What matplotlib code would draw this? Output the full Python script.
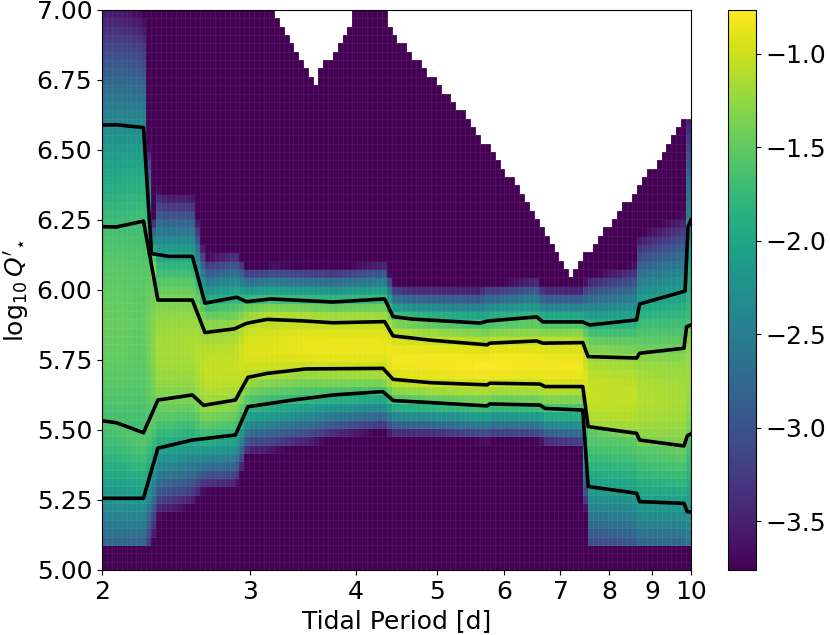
import numpy as np
import matplotlib.pyplot as plt
from math import erf

# percentile curves of log10 Q'_* against tidal period [d]
p_hi2 = [2.00, 2.08, 2.24, 2.29, 2.40, 2.56, 2.65, 2.89, 2.97, 3.17, 3.76, 4.33, 4.43,
         4.67, 5.62, 5.74, 6.56, 6.67, 7.44, 7.58, 8.62, 8.69, 9.84, 9.92, 10.0]
q_hi2 = [6.589, 6.59, 6.58, 6.13, 6.12, 6.12, 5.953, 5.974, 5.958, 5.968, 5.957, 5.968, 5.905,
         5.896, 5.882, 5.889, 5.904, 5.886, 5.886, 5.875, 5.893, 5.95, 5.996, 6.225, 6.25]

p_hi1 = [2.00, 2.08, 2.24, 2.33, 2.56, 2.65, 2.87, 2.97, 3.14, 3.44, 3.76, 4.33, 4.43,
         4.90, 5.73, 5.77, 6.56, 6.67, 7.44, 7.55, 8.62, 8.69, 9.81, 9.88, 10.0]
q_hi1 = [6.226, 6.225, 6.246, 5.964, 5.964, 5.848, 5.861, 5.881, 5.895, 5.89, 5.883, 5.887, 5.836,
         5.821, 5.804, 5.81, 5.818, 5.81, 5.812, 5.762, 5.757, 5.774, 5.792, 5.869, 5.875]

p_lo1 = [2.00, 2.08, 2.24, 2.33, 2.56, 2.64, 2.88, 2.98, 3.14, 3.49, 4.31, 4.43, 4.90,
         5.73, 5.77, 6.62, 6.71, 7.44, 7.55, 8.62, 8.69, 9.81, 9.90, 10.0]
q_lo1 = [5.533, 5.526, 5.490, 5.607, 5.625, 5.588, 5.607, 5.688, 5.702, 5.718, 5.720, 5.681, 5.669,
         5.661, 5.667, 5.664, 5.655, 5.655, 5.512, 5.488, 5.464, 5.443, 5.479, 5.486]

p_lo2 = [2.00, 2.24, 2.33, 2.56, 2.88, 2.98, 3.37, 3.76, 4.31, 4.43, 4.90, 5.73, 5.77,
         6.62, 6.71, 7.44, 7.55, 8.62, 8.69, 9.81, 9.90, 10.0]
q_lo2 = [5.256, 5.256, 5.435, 5.464, 5.482, 5.583, 5.607, 5.625, 5.637, 5.605, 5.598, 5.586, 5.593,
         5.589, 5.577, 5.571, 5.298, 5.274, 5.244, 5.238, 5.208, 5.207]

# upper edge of the sampled region (white above it)
p_edge = [2.0, 3.15, 3.18, 3.25, 3.32, 3.41, 3.49, 3.58, 3.66, 3.74, 3.82, 3.91, 3.98, 4.07,
          4.36, 4.38, 7.13, 7.24, 7.28, 9.88, 10.0]
q_edge = [7.1, 7.1, 7.0, 6.95, 6.89, 6.83, 6.80, 6.74, 6.80, 6.83, 6.89, 6.92, 6.98, 7.1,
          7.1, 6.93, 6.08, 6.04, 6.08, 6.62, 6.62]
q_floor = 5.075

xticks = [2, 3, 4, 5, 6, 7, 8, 9, 10]
yticks = [5.0, 5.25, 5.5, 5.75, 6.0, 6.25, 6.5, 6.75, 7.0]
cticks = [-1.0, -1.5, -2.0, -2.5, -3.0, -3.5]
cmin, cmax = -3.76, -0.765

# grid of the density map
p_bins = np.geomspace(2, 10, 121)
q_bins = np.linspace(5, 7, 68)
pc = np.sqrt(p_bins[:-1] * p_bins[1:])
qc = 0.5 * (q_bins[:-1] + q_bins[1:])

Phi = np.vectorize(lambda z: 0.5 * (1 + erf(z / np.sqrt(2))))

dens = np.empty((len(qc), len(pc)))
for j, p in enumerate(pc):
    a = np.interp(p, p_lo2, q_lo2)
    b = np.interp(p, p_lo1, q_lo1)
    c = np.interp(p, p_hi1, q_hi1)
    d = np.interp(p, p_hi2, q_hi2)
    m = 0.5 * (b + c)
    knots = np.array([a, b, m, c, d])
    zk = np.array([-2.0, -1.0, 0.0, 1.0, 2.0])
    z = np.interp(q_bins, knots, zk)
    z = np.where(q_bins < a, -2 + (q_bins - a) / (b - a), z)
    z = np.where(q_bins > d, 2 + (q_bins - d) / (d - c), z)
    prob = np.diff(Phi(z))
    prob = np.where(qc < q_floor, 1e-12, prob)
    col = np.log10(np.maximum(prob, 1e-12))
    col[qc > np.interp(p, p_edge, q_edge)] = np.nan
    dens[:, j] = col

fig = plt.figure(figsize=(8.3, 6.35), dpi=100)
ax = fig.add_axes([0.1229, 0.1024, 0.7096, 0.8819])
mesh = ax.pcolormesh(p_bins, q_bins, np.ma.masked_invalid(dens), cmap='viridis',
                     vmin=cmin, vmax=cmax, edgecolors=(1, 1, 1, 0.06), linewidth=0.4)

for px, qy in [(p_hi2, q_hi2), (p_hi1, q_hi1), (p_lo1, q_lo1), (p_lo2, q_lo2)]:
    ax.plot(px, qy, color='k', lw=2.6)

ax.set_xscale('log')
ax.set_xlim(2, 10)
ax.set_ylim(5, 7)
ax.xaxis.set_minor_locator(plt.NullLocator())
ax.set_xticks(xticks)
ax.set_xticklabels([str(t) for t in xticks])
ax.set_yticks(yticks)
ax.set_yticklabels(['%.2f' % t for t in yticks])
ax.tick_params(labelsize=18)
ax.set_xlabel('Tidal Period [d]', fontsize=18)
ax.set_ylabel(r"$\log_{10}Q'_{\star}$", fontsize=18)

cax = fig.add_axes([0.877, 0.1024, 0.034, 0.8819])
cb = fig.colorbar(mesh, cax=cax)
cb.set_ticks(cticks)
cb.ax.tick_params(labelsize=18)

fig.savefig('out.png', dpi=100)
